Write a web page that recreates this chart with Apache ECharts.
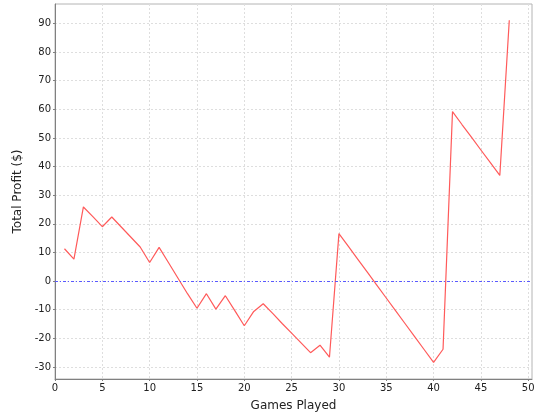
<!DOCTYPE html>
<html>
<head>
<meta charset="utf-8">
<script src="https://cdn.jsdelivr.net/npm/echarts@6/dist/echarts.min.js"></script>
<style>
html, body { margin: 0; padding: 0; background: #fff; }
#chart { width: 540px; height: 420px; }
</style>
</head>
<body>
<div id="chart"></div>
<script>
// games played (x) and running profit (y)
var games = [];
for (var i = 1; i <= 48; i++) games.push(i);
var profit = [
    11.3, 7.7, 25.9, 22.5, 19.0, 22.4, 18.9, 15.4, 11.9, 6.5,
    11.8, 6.4, 1.0, -4.4, -9.5, -4.4, -9.8, -5.1, -10.3, -15.6,
    -10.6, -7.9, -11.3, -14.8, -18.2, -21.6, -25.0, -22.4, -26.6, 16.6,
    12.1, 7.6, 3.1, -1.4, -5.9, -10.4, -14.9, -19.4, -23.9, -28.4,
    -23.8, 59.2, 54.7, 50.3, 45.8, 41.4, 36.9, 91.1
];
var yTicks = [-30, -20, -10, 0, 10, 20, 30, 40, 50, 60, 70, 80, 90];
var xTicks = [0, 5, 10, 15, 20, 25, 30, 35, 40, 45, 50];

var chart = echarts.init(document.getElementById('chart'));
var points = games.map(function (g, i) { return [g, profit[i]]; });

var tickFont = { fontFamily: 'DejaVu Sans', fontSize: 10, color: '#222' };
var gridLine = { show: true, lineStyle: { color: '#dedede', type: [2, 2] } };

chart.setOption({
    animation: false,
    backgroundColor: '#fff',
    grid: {
        left: 55, right: 8, top: 4, bottom: 41,
        outerBoundsMode: 'none',
        containLabel: false,
        show: true,
        borderColor: '#b4b4b4',
        borderWidth: 1
    },
    xAxis: {
        type: 'value',
        min: 0,
        max: 50.4,
        name: 'Games Played',
        nameLocation: 'middle',
        nameGap: 21,
        nameTextStyle: { fontFamily: 'DejaVu Sans', fontSize: 12, color: '#222' },
        axisLine: { onZero: false, lineStyle: { color: '#808080' } },
        axisTick: { show: true, length: 2, customValues: xTicks, lineStyle: { color: '#808080' } },
        axisLabel: Object.assign({ margin: 4, customValues: xTicks }, tickFont),
        splitLine: gridLine
    },
    yAxis: {
        type: 'value',
        min: -34.2,
        max: 96.8,
        name: 'Total Profit ($)',
        nameLocation: 'middle',
        nameGap: 25,
        nameTextStyle: { fontFamily: 'DejaVu Sans', fontSize: 12, color: '#222' },
        axisLine: { show: true, onZero: false, lineStyle: { color: '#808080' } },
        axisTick: { show: true, length: 2, customValues: yTicks, lineStyle: { color: '#808080' } },
        axisLabel: Object.assign({ margin: 4, customValues: yTicks }, tickFont),
        splitLine: gridLine
    },
    series: [{
        type: 'line',
        data: points,
        showSymbol: false,
        lineStyle: { color: '#ff5a5a', width: 1.2 },
        itemStyle: { color: '#ff5a5a' },
        markLine: {
            silent: true,
            symbol: 'none',
            label: { show: false },
            lineStyle: { color: '#5a5aff', width: 1, type: [3, 2, 1, 2] },
            data: [{ yAxis: 0 }]
        }
    }]
});
</script>
</body>
</html>
